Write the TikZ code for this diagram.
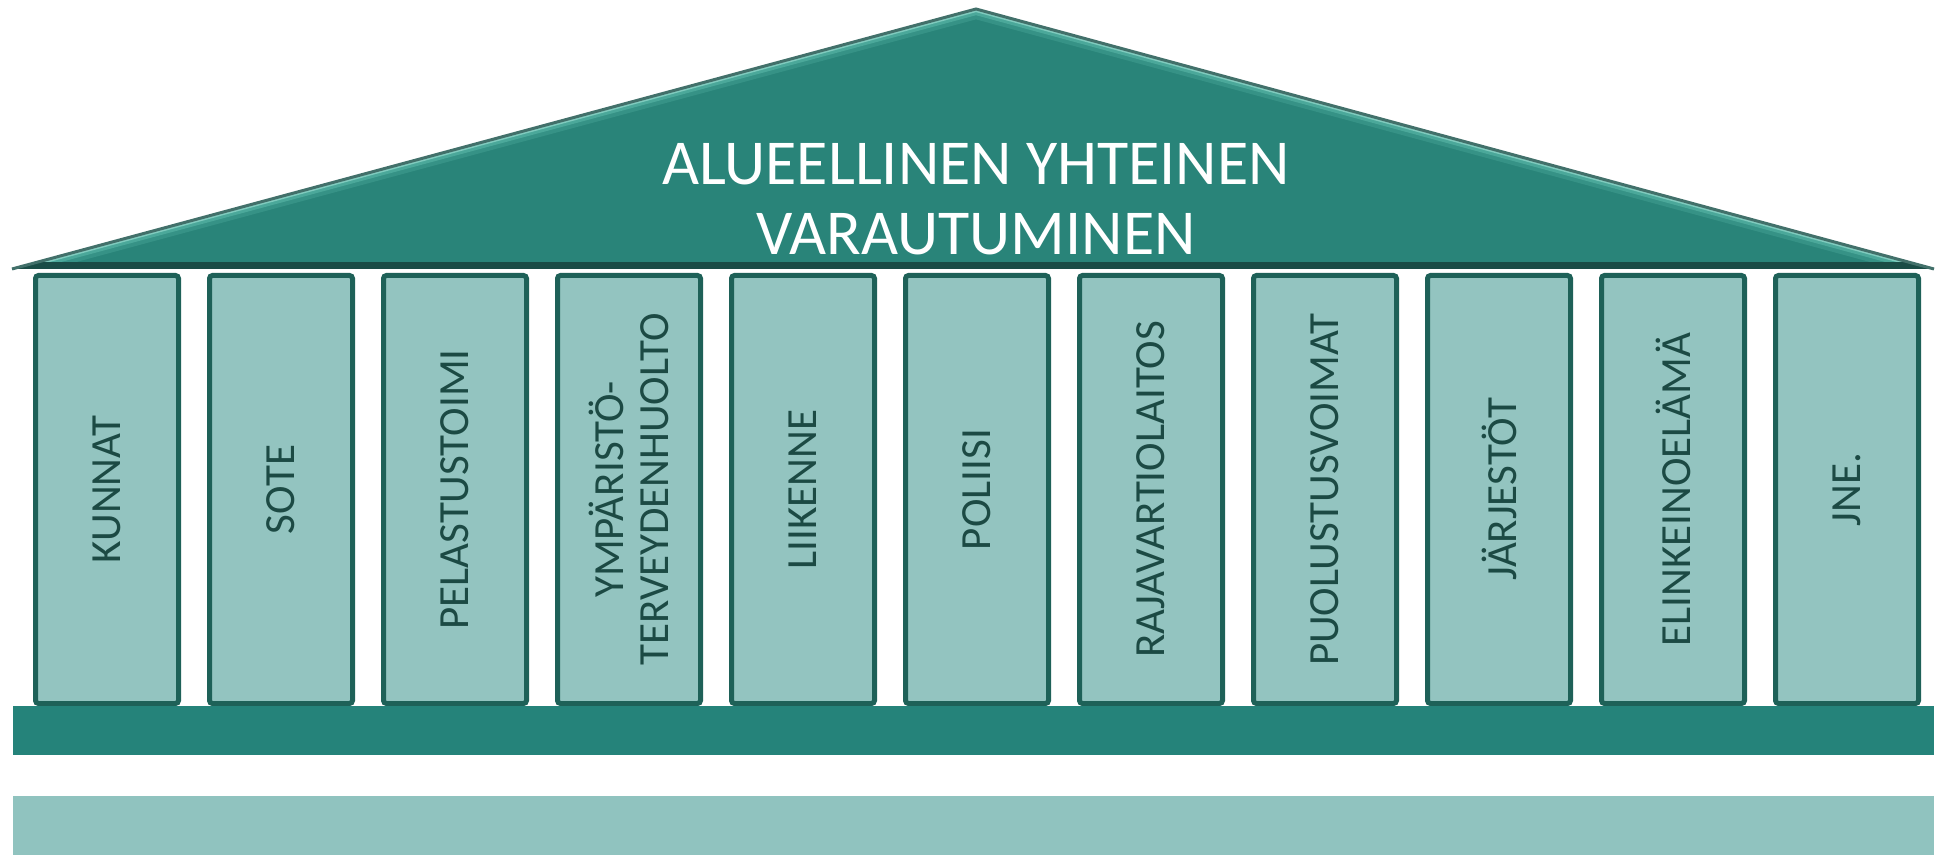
\documentclass[tikz,border=0pt]{standalone}
\usepackage{fontspec}
\setmainfont{Carlito}
\usepackage{tikz}
\usepackage{xcolor}
\definecolor{roofteal}{RGB}{41,132,121}
\definecolor{rooflight}{RGB}{96,190,174}
\definecolor{roofedge}{RGB}{66,112,106}
\definecolor{roofbase}{RGB}{26,76,70}
\definecolor{pillarfill}{RGB}{147,196,192}
\definecolor{pillarline}{RGB}{30,97,88}
\definecolor{pillartext}{RGB}{28,74,68}
\definecolor{basedark}{RGB}{37,131,122}
\definecolor{baselight}{RGB}{144,195,191}

\begin{document}
\begin{tikzpicture}[x=0.5pt,y=-0.5pt,
    pillar/.style={draw=pillarline, fill=pillarfill, line width=2.5pt,
        rounded corners=1.5pt, rotate=90, minimum width=214pt,
        minimum height=71.5pt, inner sep=0pt, align=center,
        text=pillartext, font=\fontsize{21.5}{22.5}\selectfont},
    rooftitle/.style={text=white, align=center,
        font=\fontsize{32}{35}\selectfont}]
        \useasboundingbox (0,0) rectangle (1939,855);
        % roof
        \coordinate (vasen) at (12,269);
        \coordinate (harja) at (976,9);
        \coordinate (oikea) at (1934,269);
        \fill[roofteal] (vasen) -- (harja) -- (oikea) -- cycle;
        \begin{scope}
            \clip (vasen) -- (harja) -- (oikea) -- cycle;
            \draw[rooflight, line width=10pt, opacity=0.25] (vasen) -- (harja) -- (oikea);
            \draw[rooflight, line width=6pt, opacity=0.5] (vasen) -- (harja) -- (oikea);
            \draw[rooflight!80!white, line width=3pt] (vasen) -- (harja) -- (oikea);
            \draw[roofbase, line width=3.5pt] (0,266) -- (1939,266);
        \end{scope}
        \draw[roofedge, line width=1.5pt, line join=miter] (vasen) -- (harja) -- (oikea);
        \node[rooftitle] (otsikko) at (976,199) {ALUEELLINEN YHTEINEN\\VARAUTUMINEN};
        % pillars
        \foreach \nimi/\teksti [count=\i from 0] in {kunnat/KUNNAT, sote/SOTE,
            pelastus/PELASTUSTOIMI, ymparisto/{YMPÄRISTÖ-\\TERVEYDENHUOLTO},
            liikenne/LIIKENNE, poliisi/POLIISI, raja/RAJAVARTIOLAITOS,
            puolustus/PUOLUSTUSVOIMAT, jarjestot/JÄRJESTÖT,
            elinkeino/ELINKEINOELÄMÄ, jne/JNE.}
            \node[pillar] (\nimi) at (107+174*\i,489.5) {\teksti};
        % base
        \fill[basedark] (13,706) rectangle (1934,755);
        \fill[baselight] (13,796) rectangle (1934,855);
    \end{tikzpicture}
\end{document}
